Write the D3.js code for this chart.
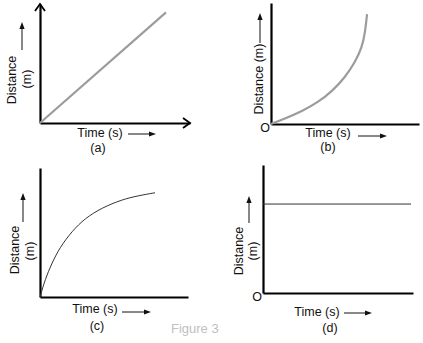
<!DOCTYPE html>
<html><head><meta charset="utf-8">
<script src="https://cdn.jsdelivr.net/npm/d3@7"></script>
<style>html,body{margin:0;padding:0;background:#fff;}svg{display:block;}</style>
</head><body>
<svg id="c" width="423" height="343"></svg>
<script>
// ---- data ----
const timeA = [0, 8.4];
const distA = [0, 9.3];
const timeB = [0, 0.95, 2.09, 3.18, 4.12, 5.0, 5.68, 6.15, 6.35, 6.49];
const distB = [0, 0.45, 1.05, 1.8, 2.7, 3.85, 5.1, 6.35, 7.5, 9.08];
const timeC = [0, 0.34, 0.81, 1.35, 2.16, 3.04, 4.19, 5.54, 6.62, 7.77];
const distC = [0, 1.35, 2.65, 3.85, 5.1, 6.1, 6.92, 7.55, 7.85, 8.08];
const timeD = [0, 9.87];
const distD = [6.95, 6.95];
const xLabel = "Time (s)";
const yLabel = "Distance";
const yUnit = "(m)";
const panelLabels = ["(a)", "(b)", "(c)", "(d)"];
const originLabel = "O";
const caption = "Figure 3";

const svg = d3.select("#c");
const font = "Liberation Sans, Arial, sans-serif";

function smallArrow(g, x1, y1, x2, y2) {
  const ang = Math.atan2(y2 - y1, x2 - x1);
  const L = 7, W = 2.6;
  const bx = x2 - L * Math.cos(ang), by = y2 - L * Math.sin(ang);
  g.append("line").attr("x1", x1).attr("y1", y1).attr("x2", bx).attr("y2", by)
    .attr("stroke", "#111").attr("stroke-width", 1);
  const px = -Math.sin(ang) * W, py = Math.cos(ang) * W;
  g.append("path").attr("d", `M${x2},${y2}L${bx + px},${by + py}L${bx - px},${by - py}Z`)
    .attr("fill", "#111");
}

function panel(cfg) {
  const g = svg.append("g");
  const x = d3.scaleLinear().domain([0, 10]).range([cfg.ox, cfg.xEnd]);
  const y = d3.scaleLinear().domain([0, 10]).range([cfg.oy, cfg.yTop]);
  const ax = g.append("g").attr("transform", `translate(0,${cfg.oy})`)
    .call(d3.axisBottom(x).tickValues([]).tickSizeOuter(0));
  const ay = g.append("g").attr("transform", `translate(${cfg.ox},0)`)
    .call(d3.axisLeft(y).tickValues([]).tickSizeOuter(0));
  [ax, ay].forEach(a => a.select(".domain").attr("stroke", "#000").attr("stroke-width", 2.2));
  if (cfg.arrows) {
    g.append("path").attr("d", `M${cfg.ox - 5},${cfg.yTop + 7}L${cfg.ox},${cfg.yTop}L${cfg.ox + 5},${cfg.yTop + 7}`)
      .attr("fill", "none").attr("stroke", "#000").attr("stroke-width", 1.8);
    g.append("path").attr("d", `M${cfg.xEnd - 7},${cfg.oy - 5}L${cfg.xEnd},${cfg.oy}L${cfg.xEnd - 7},${cfg.oy + 5}`)
      .attr("fill", "none").attr("stroke", "#000").attr("stroke-width", 1.8);
  }
  const pts = cfg.t.map((t, i) => [t, cfg.d[i]]);
  const line = d3.line().x(d => x(d[0])).y(d => y(d[1])).curve(d3.curveBasis);
  g.append("path").datum(pts).attr("d", line).attr("fill", "none")
    .attr("stroke", cfg.color).attr("stroke-width", cfg.width);

  // labels
  g.append("text").attr("x", cfg.tx).attr("y", cfg.ty).attr("text-anchor", "middle")
    .attr("font-family", font).attr("font-size", 12.5).attr("fill", "#111").text(xLabel);
  smallArrow(g, cfg.ax1, cfg.ay, cfg.ax2, cfg.ay);
  g.append("text").attr("x", cfg.px).attr("y", cfg.py).attr("text-anchor", "middle")
    .attr("font-family", font).attr("font-size", 12.5).attr("fill", "#111").text(cfg.label);
  if (cfg.single) {
    g.append("text").attr("transform", `translate(${cfg.dx},${cfg.dy}) rotate(-90)`)
      .attr("text-anchor", "middle").attr("dominant-baseline", "central")
      .attr("font-family", font).attr("font-size", 12.5).attr("fill", "#111").text(yLabel + " " + yUnit);
  } else {
    g.append("text").attr("transform", `translate(${cfg.dx},${cfg.dy}) rotate(-90)`)
      .attr("text-anchor", "middle").attr("dominant-baseline", "central")
      .attr("font-family", font).attr("font-size", 12.5).attr("fill", "#111").text(yLabel);
    g.append("text").attr("transform", `translate(${cfg.mx},${cfg.my}) rotate(-90)`)
      .attr("text-anchor", "middle").attr("dominant-baseline", "central")
      .attr("font-family", font).attr("font-size", 12.5).attr("fill", "#111").text(yUnit);
  }
  smallArrow(g, cfg.ux, cfg.uy1, cfg.ux, cfg.uy2);
  if (cfg.origin) {
    g.append("text").attr("x", cfg.ox - 6).attr("y", cfg.oy + 4).attr("text-anchor", "middle")
      .attr("dominant-baseline", "central")
      .attr("font-family", font).attr("font-size", 12.5).attr("fill", "#111").text(originLabel);
  }
}

panel({ox: 40, oy: 123, xEnd: 190, yTop: 4, arrows: true, t: timeA, d: distA, color: "#9c9c9c", width: 2.2,
  tx: 100, ty: 137, ax1: 128, ax2: 156, ay: 134, px: 98, py: 152, label: panelLabels[0],
  dx: 12, dy: 80, mx: 27, my: 79, ux: 22, uy1: 50, uy2: 22});
panel({ox: 271, oy: 124, xEnd: 419, yTop: 3, arrows: false, t: timeB, d: distB, color: "#9c9c9c", width: 2.2,
  tx: 328, ty: 137, ax1: 358, ax2: 387, ay: 136, px: 328, py: 151, label: panelLabels[1],
  single: true, dx: 259, dy: 79, ux: 260, uy1: 43, uy2: 13, origin: true});
panel({ox: 40, oy: 297, xEnd: 188, yTop: 168, arrows: false, t: timeC, d: distC, color: "#333", width: 1,
  tx: 95, ty: 313, ax1: 122, ax2: 151, ay: 312, px: 97, py: 330, label: panelLabels[2],
  dx: 15, dy: 250, mx: 30, my: 251, ux: 23, uy1: 222, uy2: 193});
panel({ox: 263, oy: 293, xEnd: 413, yTop: 165, arrows: false, t: timeD, d: distD, color: "#333", width: 1,
  tx: 317, ty: 316, ax1: 344, ax2: 372, ay: 313, px: 330, py: 332, label: panelLabels[3],
  dx: 239, dy: 251, mx: 253, my: 251, ux: 249, uy1: 223, uy2: 196, origin: true});

svg.append("text").attr("x", 171).attr("y", 333).attr("font-family", font).attr("font-size", 13)
  .attr("fill", "#c0c0c0").text(caption);
</script>
</body></html>
